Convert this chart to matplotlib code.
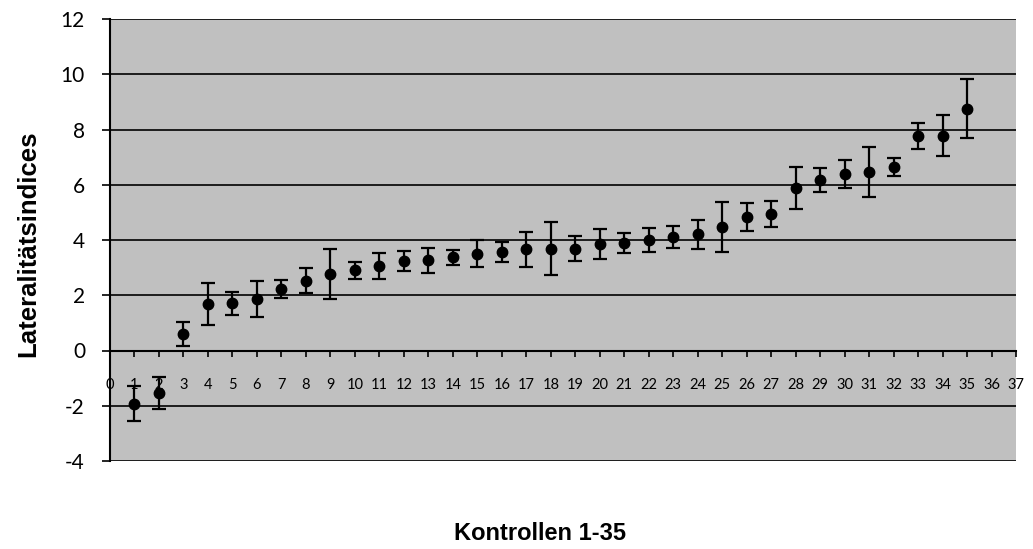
import numpy as np
import matplotlib.pyplot as plt

plt.rcParams["axes.unicode_minus"] = False

# Kontrollen 1-35, Lateralitaetsindices (mean and error)
kontrollen = list(range(1, 36))
werte = [-1.92, -1.55, 0.60, 1.70, 1.71, 1.87, 2.23, 2.52, 2.77, 2.90,
         3.06, 3.25, 3.26, 3.37, 3.51, 3.55, 3.67, 3.69, 3.69, 3.85,
         3.90, 4.01, 4.11, 4.20, 4.46, 4.84, 4.95, 5.88, 6.16, 6.40,
         6.46, 6.63, 7.76, 7.78, 8.76]
fehler = [0.65, 0.58, 0.43, 0.76, 0.41, 0.64, 0.33, 0.45, 0.91, 0.31,
          0.48, 0.36, 0.46, 0.26, 0.49, 0.36, 0.63, 0.95, 0.44, 0.54,
          0.36, 0.43, 0.41, 0.51, 0.90, 0.50, 0.47, 0.75, 0.44, 0.50,
          0.89, 0.33, 0.47, 0.74, 1.05]
x_ticks = list(range(0, 38))
y_ticks = list(range(-4, 13, 2))

fig = plt.figure(figsize=(10.33, 5.49), dpi=100)
ax = fig.add_axes([110 / 1033, 1 - 461 / 549, 906 / 1033, 442 / 549])
ax.set_facecolor("#C0C0C0")

# error bars with filled circles
ax.errorbar(kontrollen, werte, yerr=fehler, fmt="o", color="black",
            markersize=7.5, elinewidth=1.6, capsize=5, capthick=1.6, zorder=3)

ax.set_xlim(0, 37)
ax.set_ylim(-4, 12)
ax.set_yticks(y_ticks)
ax.set_xticks(x_ticks)

# horizontal gridlines
ax.yaxis.grid(True, color="black", linewidth=1.2)
ax.set_axisbelow(True)

# x-axis crosses at y = 0
ax.spines["bottom"].set_position(("data", 0))
ax.spines["bottom"].set_linewidth(1.5)
ax.spines["right"].set_visible(False)
ax.spines["top"].set_visible(False)
ax.spines["left"].set_linewidth(1.5)

ax.tick_params(axis="y", direction="out", length=6, width=1.2, pad=12,
               labelsize=15)
ax.tick_params(axis="x", direction="out", length=4, width=1.2, pad=16,
               labelsize=10.5)
for lab in ax.get_yticklabels() + ax.get_xticklabels():
    lab.set_fontfamily("Lato")

fig.text(28 / 1033, 1 - 244 / 549, "Lateralitätsindices",
         rotation=90, ha="center", va="center", fontsize=18.5,
         fontweight="bold", fontfamily="Liberation Sans")
fig.text(540 / 1033, 1 - 533 / 549, "Kontrollen 1-35", ha="center",
         va="center", fontsize=17, fontweight="bold",
         fontfamily="Liberation Sans")

plt.savefig("out.png", dpi=100)
